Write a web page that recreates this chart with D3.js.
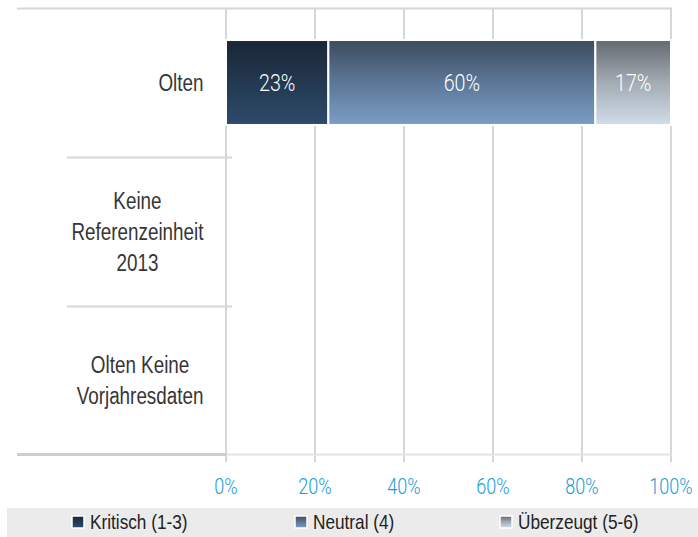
<!DOCTYPE html>
<html lang="de">
<head>
<meta charset="utf-8">
<title>Olten</title>
<script src="https://d3js.org/d3.v7.min.js"></script>
<style>
  body { margin: 0; background: #fff; }
  svg { display: block; font-family: "Liberation Sans", Arial, sans-serif; }
  .thin { font-family: Roboto, "Liberation Sans", sans-serif; font-weight: 300; }
</style>
</head>
<body>
<svg width="698" height="537"></svg>
<script>

// data
var categories = ["Olten", "Keine Referenzeinheit 2013", "Olten Keine Vorjahresdaten"];
var catLines = [["Olten"], ["Keine", "Referenzeinheit", "2013"], ["Olten Keine", "Vorjahresdaten"]];
var seriesNames = ["Kritisch (1-3)", "Neutral (4)", "Überzeugt (5-6)"];
var kritisch = [0.23, 0, 0];
var neutral = [0.60, 0, 0];
var ueberzeugt = [0.17, 0, 0];
var tickValues = [0, 0.2, 0.4, 0.6, 0.8, 1];

var gradStops = [
  [["0%", "#1a2636"], ["100%", "#2d4b6b"]],
  [["0%", "#3c4b5e"], ["50%", "#5c7798"], ["100%", "#7a9ec5"]],
  [["0%", "#636970"], ["50%", "#a3abb3"], ["100%", "#d0dde9"]]
];

// the original font is a narrow one, so squeeze the text horizontally
var narrow = 0.82;
function place(px, py) {
  return "translate(" + px + "," + py + ") scale(" + narrow + ",1)";
}

var svg = d3.select("svg");

var x = d3.scaleLinear().domain([0, 1]).range([226, 671]);
var y = d3.scaleBand().domain(categories).range([8, 455]);

var defs = svg.append("defs");
gradStops.forEach(function(stops, i) {
  var lg = defs.append("linearGradient")
      .attr("id", "grad" + i)
      .attr("x1", 0).attr("y1", 0).attr("x2", 0).attr("y2", 1);
  stops.forEach(function(s) {
    lg.append("stop").attr("offset", s[0]).attr("stop-color", s[1]);
  });
});

var lineColor = "#d3d6db";

// top line
svg.append("line")
    .attr("x1", 17).attr("x2", 672)
    .attr("y1", 8.5).attr("y2", 8.5)
    .attr("stroke", lineColor).attr("stroke-width", 2);

// vertical grid
svg.append("g")
  .selectAll("line")
  .data(tickValues)
  .join("line")
    .attr("x1", function(d) { return x(d); })
    .attr("x2", function(d) { return x(d); })
    .attr("y1", 8).attr("y2", 462)
    .attr("stroke", lineColor)
    .attr("stroke-width", 2);

// bottom line (left part darker)
svg.append("line")
    .attr("x1", 226).attr("x2", 672)
    .attr("y1", 454.5).attr("y2", 454.5)
    .attr("stroke", "#e2e4e8").attr("stroke-width", 2);
svg.append("line")
    .attr("x1", 17).attr("x2", 227)
    .attr("y1", 454.5).attr("y2", 454.5)
    .attr("stroke", "#cbcfd5").attr("stroke-width", 3);

// category separators
svg.append("g")
  .selectAll("line")
  .data(categories.slice(1))
  .join("line")
    .attr("x1", 67).attr("x2", 232)
    .attr("y1", function(d) { return y(d) + 0.5; })
    .attr("y2", function(d) { return y(d) + 0.5; })
    .attr("stroke", lineColor)
    .attr("stroke-width", 2);

// stacked bars
var table = categories.map(function(c, i) {
  return { cat: c, k: kritisch[i], n: neutral[i], u: ueberzeugt[i] };
});
var stack = d3.stack().keys(["k", "n", "u"])(table);

var barH = y.bandwidth() * 0.57;
var barOff = (y.bandwidth() - barH) / 2;

var layers = svg.append("g")
  .selectAll("g")
  .data(stack)
  .join("g")
    .attr("fill", function(d, i) { return "url(#grad" + i + ")"; });

layers.selectAll("rect")
  .data(function(d) { return d.filter(function(p) { return p[1] - p[0] > 0; }); })
  .join("rect")
    .attr("x", function(d) { return x(d[0]); })
    .attr("y", function(d) { return y(d.data.cat) + barOff; })
    .attr("width", function(d) { return x(d[1]) - x(d[0]); })
    .attr("height", barH)
    .attr("stroke", "#fff")
    .attr("stroke-width", 2);

// value labels
layers.selectAll("text")
  .data(function(d) { return d.filter(function(p) { return p[1] - p[0] > 0; }); })
  .join("text")
    .attr("class", "thin")
    .attr("transform", function(d) {
      return place((x(d[0]) + x(d[1])) / 2, y(d.data.cat) + y.bandwidth() / 2);
    })
    .attr("dy", "0.35em")
    .attr("text-anchor", "middle")
    .attr("fill", "#fff")
    .style("font-size", "24px")
    .text(function(d) { return Math.round((d[1] - d[0]) * 100) + "%"; });

// category labels
var lineH = 31;
categories.forEach(function(c, i) {
  var lines = catLines[i];
  var cy = y(c) + y.bandwidth() / 2;
  var t = svg.append("g")
    .selectAll("text")
    .data(lines)
    .join("text")
      .attr("dy", "0.35em")
      .attr("text-anchor", "middle")
      .attr("fill", "#363636")
      .style("font-size", "23px")
      .text(function(d) { return d; });
  var w = d3.max(t.nodes(), function(n) { return n.getComputedTextLength(); }) * narrow;
  t.attr("transform", function(d, j) {
    return place(203.5 - w / 2, cy + (j - (lines.length - 1) / 2) * lineH);
  });
});

// x axis labels
svg.append("g")
  .selectAll("text")
  .data(tickValues)
  .join("text")
    .attr("class", "thin")
    .attr("transform", function(d) { return place(x(d), 486); })
    .attr("dy", "0.35em")
    .attr("text-anchor", "middle")
    .attr("fill", "#159dd6")
    .style("font-size", "22px")
    .text(d3.format(".0%"));

// legend
svg.append("rect")
    .attr("x", 7).attr("y", 508)
    .attr("width", 691).attr("height", 29)
    .attr("fill", "#ebebeb");

var legX = [78, 301, 506];
var leg = svg.append("g")
  .selectAll("g")
  .data(seriesNames)
  .join("g")
    .attr("transform", function(d, i) { return "translate(" + legX[i] + ",522)"; });

leg.append("rect")
    .attr("x", -6).attr("y", -6)
    .attr("width", 12).attr("height", 12)
    .attr("fill", function(d, i) { return "url(#grad" + i + ")"; })
    .attr("stroke", "#fff")
    .attr("stroke-width", 1.5);

leg.append("text")
    .attr("transform", place(12, 0))
    .attr("dy", "0.35em")
    .attr("fill", "#222")
    .style("font-size", "21px")
    .text(function(d) { return d; });

</script>
</body>
</html>
